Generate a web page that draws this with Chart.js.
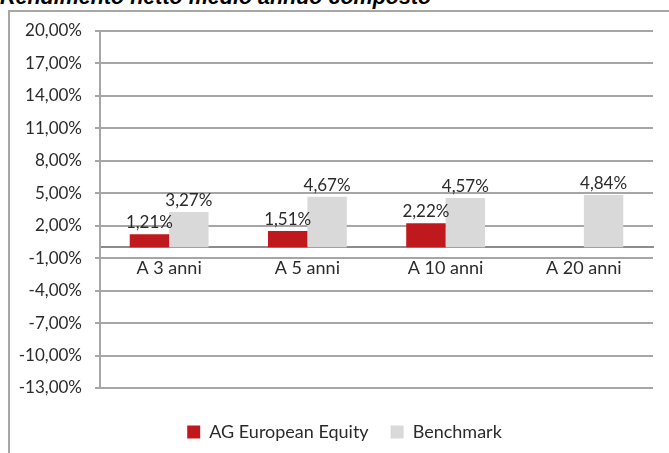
<!DOCTYPE html>
<html>
<head>
<meta charset="utf-8">
<script src="https://cdn.jsdelivr.net/npm/chart.js@4"></script>
<style>
  body { margin: 0; background: #fff; overflow: hidden; }
  #title {
    position: absolute; left: 0; top: -15px; line-height: 21px;
    font: italic bold 21.5px "Liberation Sans", Arial, sans-serif; color: #000;
    white-space: nowrap;
  }
  #frame {
    position: absolute; left: 8px; top: 10px; width: 700px; height: 500px;
    border: 2px solid #a6a6a6;
  }
  #chart { position: absolute; left: 0; top: 0; }
</style>
</head>
<body>
<div id="title">Rendimento netto medio annuo composto</div>
<div id="frame"></div>
<canvas id="chart" width="669" height="453"></canvas>
<script>
// data
const periods = ["A 3 anni", "A 5 anni", "A 10 anni", "A 20 anni"];
const fundValues = [1.21, 1.51, 2.22, null];
const benchmarkValues = [3.27, 4.67, 4.57, 4.84];
const seriesNames = ["AG European Equity", "Benchmark"];

const pallets = { COL1: "#c0191d", COL2: "#d9d9d9" };
const fontFamily = "Lato, 'Open Sans', sans-serif";

function fmtPct(v) {
    return v.toFixed(2).replace(".", ",") + "%";
}

// labels on top of each bar
const barLabels = {
    id: "barLabels",
    afterDatasetsDraw(chart) {
        const ctx = chart.ctx;
        ctx.save();
        ctx.font = "17px " + fontFamily;
        ctx.fillStyle = "#2b2b2b";
        ctx.textAlign = "center";
        ctx.textBaseline = "alphabetic";
        chart.data.datasets.forEach((ds, i) => {
            chart.getDatasetMeta(i).data.forEach((bar, j) => {
                const v = ds.data[j];
                if (v === null) return;
                ctx.fillText(fmtPct(v), bar.x, bar.y - 6);
            });
        });
        ctx.restore();
    }
};

// legend sits a bit right of the canvas centre in the original
const legendShift = {
    id: "legendShift",
    afterLayout(chart) {
        chart.legend.left += 18;
        chart.legend.right += 18;
    }
};

new Chart("chart", {
    type: "bar",
    data: {
        labels: periods,
        datasets: [
            {
                label: seriesNames[0],
                data: fundValues,
                backgroundColor: pallets["COL1"],
                categoryPercentage: 0.57,
                barPercentage: 1.0
            },
            {
                label: seriesNames[1],
                data: benchmarkValues,
                backgroundColor: pallets["COL2"],
                categoryPercentage: 0.57,
                barPercentage: 1.0
            }
        ]
    },
    options: {
        responsive: false,
        animation: false,
        layout: { padding: { left: 0, right: 16, top: 31, bottom: 2 } },
        plugins: {
            tooltip: { enabled: false },
            legend: {
                position: "bottom",
                title: { display: true, text: "", font: { size: 10 }, padding: { top: 0, bottom: 1 } },
                labels: {
                    boxWidth: 13,
                    boxHeight: 13,
                    padding: 22,
                    color: "#2b2b2b",
                    font: { family: fontFamily, size: 18 }
                }
            }
        },
        scales: {
            x: {
                position: { y: 0 },
                afterFit: (scale) => { scale.height = 0; },
                grid: { display: false, drawTicks: false },
                border: { display: true, color: "#8c8c8c", width: 2 },
                ticks: {
                    padding: 10,
                    color: "#2b2b2b",
                    font: { family: fontFamily, size: 18 }
                }
            },
            y: {
                min: -13,
                max: 20,
                afterFit: (scale) => { scale.width = 100; },
                grid: { color: "#a6a6a6", lineWidth: 2, tickLength: 5 },
                border: { display: true, color: "#a6a6a6", width: 2 },
                ticks: {
                    stepSize: 3,
                    padding: 13,
                    color: "#2b2b2b",
                    font: { family: fontFamily, size: 17 },
                    callback: (v) => fmtPct(v)
                }
            }
        }
    },
    plugins: [barLabels, legendShift]
});
</script>
</body>
</html>
